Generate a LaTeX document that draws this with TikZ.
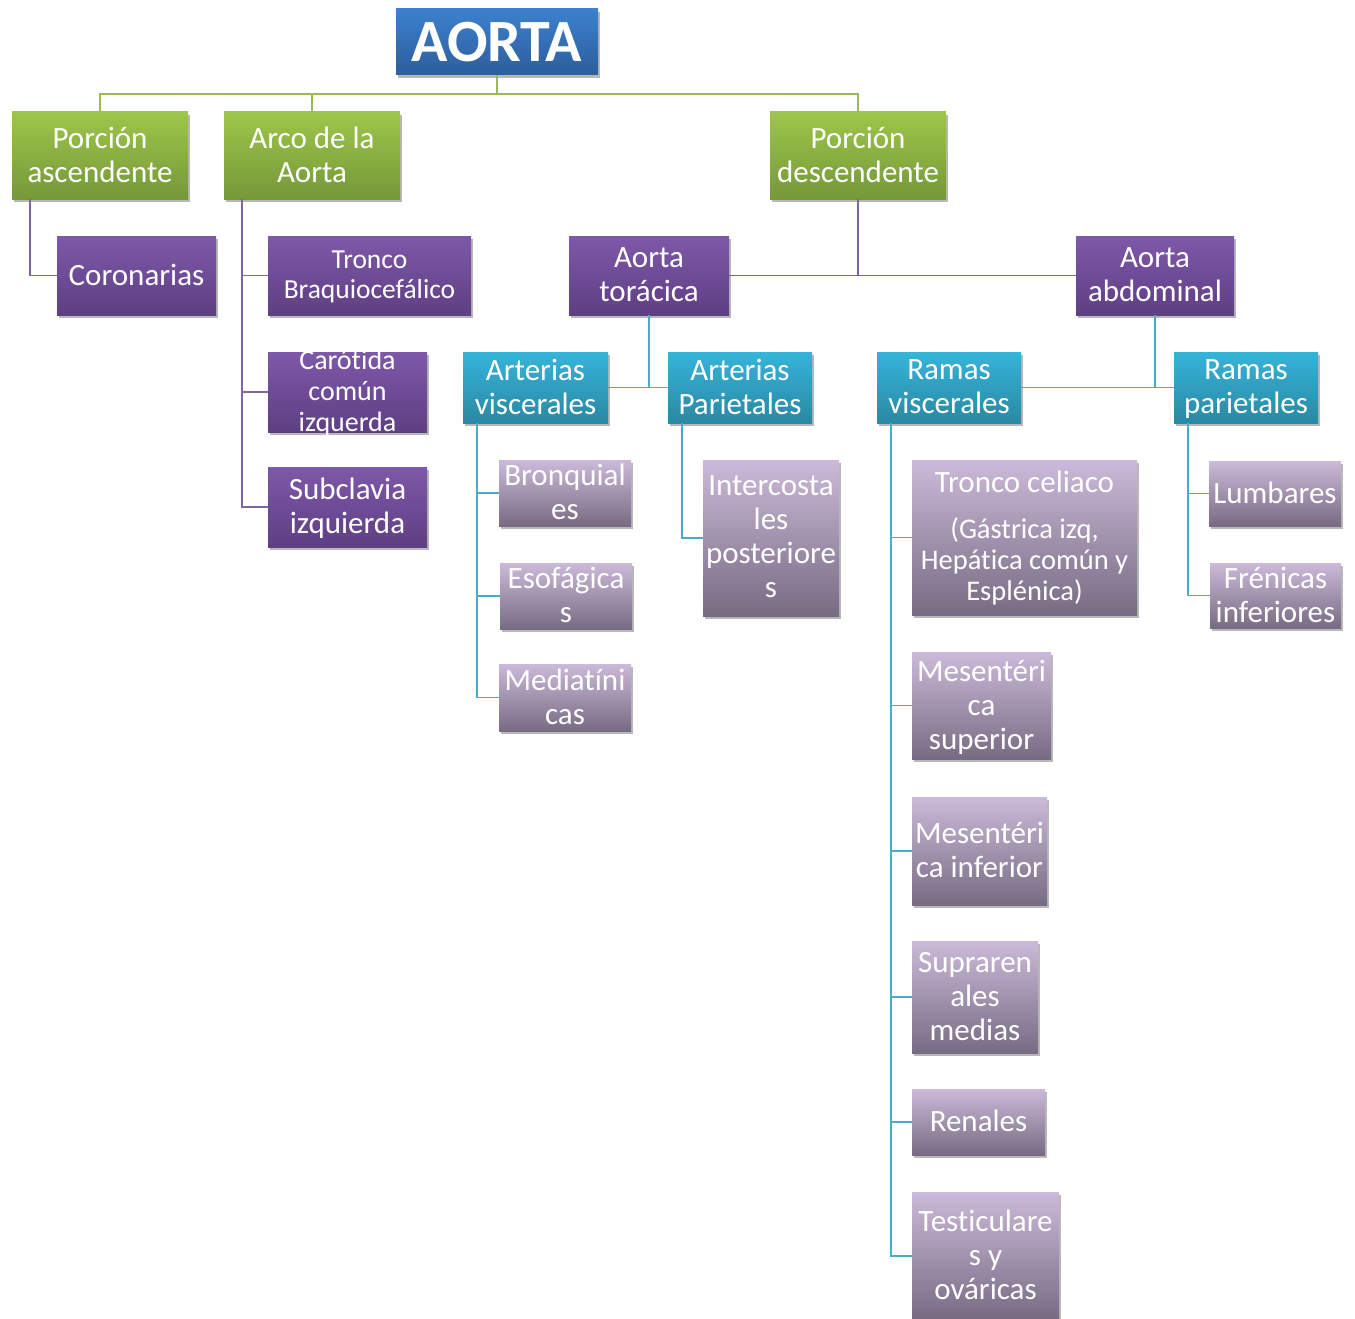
\documentclass[tikz,border=0pt]{standalone}
\usepackage{fontspec}
\setmainfont{Carlito}[Ligatures=NoCommon]
\usetikzlibrary{shadows}
\definecolor{bT}{HTML}{3D80CE}
\definecolor{bB}{HTML}{2C5E9C}
\definecolor{gT}{HTML}{9DC64A}
\definecolor{gB}{HTML}{769839}
\definecolor{pT}{HTML}{7E58A9}
\definecolor{pB}{HTML}{5F3F83}
\definecolor{cT}{HTML}{36B4DA}
\definecolor{cB}{HTML}{2A88A2}
\definecolor{lT}{HTML}{CBBAD9}
\definecolor{lB}{HTML}{776B82}
\definecolor{gL}{HTML}{9BBB59}
\definecolor{pL}{HTML}{8064A2}
\definecolor{cL}{HTML}{4BACC6}
\begin{document}
\begin{tikzpicture}[x=1pt,y=-1pt,
  box/.style={rectangle, inner sep=0pt, drop shadow={shadow xshift=2pt, shadow yshift=-3pt, opacity=0.28, fill=black}},
  bluebox/.style={box, top color=bT, bottom color=bB},
  grnbox/.style={box, top color=gT, bottom color=gB},
  purbox/.style={box, top color=pT, bottom color=pB},
  aqbox/.style={box, top color=cT, bottom color=cB},
  lilbox/.style={box, top color=lT, bottom color=lB},
  title/.style={text=white, inner sep=0pt, font=\fontsize{60}{66}\selectfont\bfseries},
  txt/.style={text=white, align=center, inner sep=0pt, font=\fontsize{31}{34}\selectfont,
    execute at end node={\vphantom{p}}, yshift=-1.5pt},
  gline/.style={draw=gL, line width=1.9pt},
  pline/.style={draw=pL, line width=1.9pt},
  cline/.style={draw=cL, line width=1.9pt}]
\useasboundingbox (0,0) rectangle (1355,1319);
% level 0
\node[bluebox, minimum width=202pt, minimum height=66pt] (aorta) at (497,42) {};
% level 1
\node[grnbox, minimum width=176pt, minimum height=87pt] (pasc) at (100,155.5) {};
\node[grnbox, minimum width=176pt, minimum height=87pt] (arco) at (312,155.5) {};
\node[grnbox, minimum width=176pt, minimum height=87pt] (pdesc) at (858,155.5) {};
% level 2
\node[purbox, minimum width=159pt, minimum height=79pt] (coro) at (136.5,275.5) {};
\node[purbox, minimum width=203pt, minimum height=79pt] (tronco) at (369.5,275.5) {};
\node[purbox, minimum width=159pt, minimum height=80pt] (carot) at (347.5,392) {};
\node[purbox, minimum width=159pt, minimum height=80pt] (subcl) at (347.5,507) {};
\node[purbox, minimum width=160pt, minimum height=79pt] (atorac) at (649,275.5) {};
\node[purbox, minimum width=158pt, minimum height=79pt] (aabd) at (1155,275.5) {};
% level 3
\node[aqbox, minimum width=145pt, minimum height=71pt] (avisc) at (535.5,387.5) {};
\node[aqbox, minimum width=144pt, minimum height=71pt] (apar) at (740,387.5) {};
\node[aqbox, minimum width=144pt, minimum height=71pt] (rvisc) at (949,387.5) {};
\node[aqbox, minimum width=144pt, minimum height=71pt] (rpar) at (1246,387.5) {};
% level 4
\node[lilbox, minimum width=132pt, minimum height=66pt] (bron) at (565,493) {};
\node[lilbox, minimum width=132pt, minimum height=66pt] (esof) at (566,596) {};
\node[lilbox, minimum width=132pt, minimum height=67pt] (medi) at (565,697.5) {};
\node[lilbox, minimum width=136pt, minimum height=156pt] (inter) at (771,538) {};
\node[lilbox, minimum width=225pt, minimum height=155pt] (celiac) at (1024.5,537.5) {};
\node[lilbox, minimum width=132pt, minimum height=65pt] (lumb) at (1275,493.5) {};
\node[lilbox, minimum width=131pt, minimum height=65pt] (fren) at (1275.5,595.5) {};
\node[lilbox, minimum width=139pt, minimum height=107pt] (msup) at (981.5,705.5) {};
\node[lilbox, minimum width=135pt, minimum height=108pt] (minf) at (979.5,851) {};
\node[lilbox, minimum width=126pt, minimum height=112pt] (supra) at (975,997) {};
\node[lilbox, minimum width=133pt, minimum height=66pt] (renal) at (978.5,1122) {};
\node[lilbox, minimum width=147pt, minimum height=128pt] (testic) at (985.5,1256) {};
% texts
\node[title] (t-aorta) at (aorta.center) {AORTA};
\node[txt] (t-pasc) at (pasc.center) {Porción\\ascendente};
\node[txt] (t-arco) at (arco.center) {Arco de la\\Aorta};
\node[txt] (t-pdesc) at (pdesc.center) {Porción\\descendente};
\node[txt] (t-coro) at (coro.center) {Coronarias};
\node[txt, font=\fontsize{27.5}{30}\selectfont] (t-tronco) at (tronco.center) {Tronco\\Braquiocefálico};
\node[txt, font=\fontsize{28}{31}\selectfont] (t-carot) at (carot.center) {Carótida\\común\\izquerda};
\node[txt] (t-subcl) at (subcl.center) {Subclavia\\izquierda};
\node[txt] (t-atorac) at (atorac.center) {Aorta\\torácica};
\node[txt] (t-aabd) at (aabd.center) {Aorta\\abdominal};
\node[txt] (t-avisc) at (avisc.center) {Arterias\\viscerales};
\node[txt] (t-apar) at (apar.center) {Arterias\\Parietales};
\node[txt] (t-rvisc) at (rvisc.center) {Ramas\\viscerales};
\node[txt] (t-rpar) at (rpar.center) {Ramas\\parietales};
\node[txt] (t-bron) at (bron.center) {Bronquial\\es};
\node[txt] (t-esof) at (esof.center) {Esofágica\\s};
\node[txt] (t-medi) at (medi.center) {Mediatíni\\cas};
\node[txt] (t-inter) at (inter.center) {Intercosta\\les\\posteriore\\s};
\node[txt, font=\fontsize{31}{34}\selectfont] (t-celiac1) at (1024.5,483) {Tronco celiaco};
\node[txt, font=\fontsize{28.5}{31}\selectfont] (t-celiac2) at (1024.5,560) {(Gástrica izq,\\Hepática común y\\Esplénica)};
\node[txt] (t-lumb) at (lumb.center) {Lumbares};
\node[txt] (t-fren) at (fren.center) {Frénicas\\inferiores};
\node[txt] (t-msup) at (msup.center) {Mesentéri\\ca\\superior};
\node[txt] (t-minf) at (minf.center) {Mesentéri\\ca inferior};
\node[txt] (t-supra) at (supra.center) {Supraren\\ales\\medias};
\node[txt] (t-renal) at (renal.center) {Renales};
\node[txt] (t-testic) at (testic.center) {Testiculare\\s y\\ováricas};
% connectors
\coordinate (gj) at (497,94);
\draw[gline] (aorta.south) -- (gj);
\draw[gline] (gj) -| (pasc.north);
\draw[gline] (gj) -| (arco.north);
\draw[gline] (gj) -| (pdesc.north);
\draw[pline] ([xshift=18pt]pasc.south west) |- (coro.west);
\draw[pline] ([xshift=18pt]arco.south west) |- (tronco.west);
\draw[pline] ([xshift=18pt]arco.south west) |- (carot.west);
\draw[pline] ([xshift=18pt]arco.south west) |- (subcl.west);
\draw[pline] (pdesc.south) |- (atorac.east);
\draw[pline] (pdesc.south) |- (aabd.west);
\draw[cline] (atorac.south) |- (avisc.east);
\draw[cline] (atorac.south) |- (apar.west);
\draw[cline] (aabd.south) |- (rvisc.east);
\draw[cline] (aabd.south) |- (rpar.west);
\draw[cline] ([xshift=14pt]avisc.south west) |- (bron.west);
\draw[cline] ([xshift=14pt]avisc.south west) |- (esof.west);
\draw[cline] ([xshift=14pt]avisc.south west) |- (medi.west);
\draw[cline] ([xshift=14pt]apar.south west) |- (inter.west);
\draw[cline] ([xshift=14pt]rvisc.south west) |- (celiac.west);
\draw[cline] ([xshift=14pt]rvisc.south west) |- (msup.west);
\draw[cline] ([xshift=14pt]rvisc.south west) |- (minf.west);
\draw[cline] ([xshift=14pt]rvisc.south west) |- (supra.west);
\draw[cline] ([xshift=14pt]rvisc.south west) |- (renal.west);
\draw[cline] ([xshift=14pt]rvisc.south west) |- (testic.west);
\draw[cline] ([xshift=14pt]rpar.south west) |- (lumb.west);
\draw[cline] ([xshift=14pt]rpar.south west) |- (fren.west);
\end{tikzpicture}
\end{document}
